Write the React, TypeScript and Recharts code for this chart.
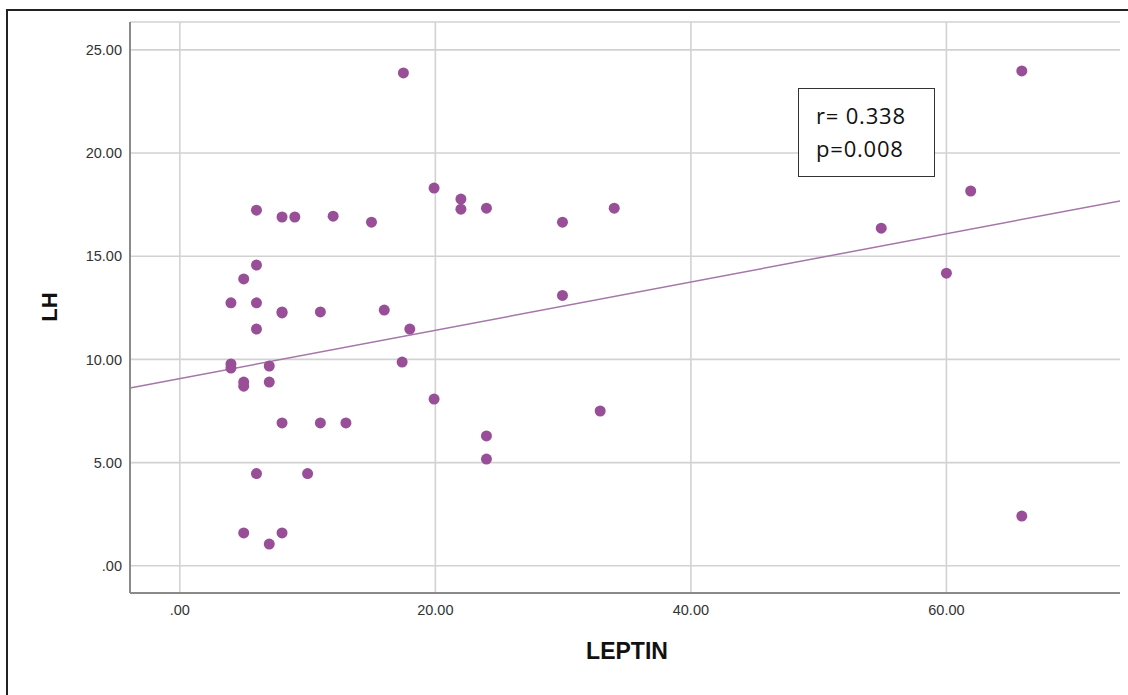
import React from 'react';
import { ScatterChart, Scatter, XAxis, YAxis, CartesianGrid, ReferenceLine } from 'recharts';

const leptin = [17.5, 65.9, 19.9, 22.0, 22.0, 24.0, 34.0, 6.0, 8.0, 9.0, 12.0, 15.0, 29.95, 61.9, 54.9,
  6.0, 5.0, 4.0, 6.0, 8.0, 8.0, 11.0, 16.0, 29.95, 60.0, 6.0, 18.0, 4.0, 4.0, 7.0, 17.4, 5.0, 5.0, 7.0,
  19.9, 32.9, 8.0, 11.0, 13.0, 24.0, 24.0, 6.0, 10.0, 5.0, 8.0, 7.0, 65.9];
const lh = [23.88, 23.98, 18.3, 17.77, 17.28, 17.33, 17.33, 17.23, 16.9, 16.9, 16.94, 16.65, 16.65, 18.16, 16.36,
  14.57, 13.9, 12.74, 12.74, 12.3, 12.25, 12.3, 12.39, 13.1, 14.18, 11.47, 11.47, 9.78, 9.58, 9.68, 9.87, 8.9, 8.7, 8.9,
  8.08, 7.5, 6.92, 6.92, 6.92, 6.29, 5.17, 4.47, 4.47, 1.59, 1.59, 1.05, 2.41];

const xTicks = [0, 20, 40, 60];
const yTicks = [0, 5, 10, 15, 20, 25];
const xDomain: [number, number] = [-3.9, 73.9];
const yDomain: [number, number] = [-1.32, 26.35];

const regIntercept = 9.07;
const regSlope = 0.117;
const statLines = ['r= 0.338', 'p=0.008'];
const cornerLabel = 'R';

const points = leptin.map((x, i) => ({ x, y: lh[i] }));
const regSegment = [
  { x: xDomain[0], y: regIntercept + regSlope * xDomain[0] },
  { x: xDomain[1], y: regIntercept + regSlope * xDomain[1] },
];

const fmt = (v: number) => (v === 0 ? '.00' : v.toFixed(2));
const DOT = '#984f98';
const FONT = '"Liberation Sans", Arial, sans-serif';

const Dot = (props: any) => <circle cx={props.cx} cy={props.cy} r={5.5} fill={DOT} />;

export default function App() {
  return (
    <div style={{ position: 'relative', width: 1128, height: 695, margin: -8, overflow: 'hidden', background: '#fff' }}>
      <div style={{ position: 'absolute', left: 0, top: 0 }}>
        <ScatterChart width={1128} height={695} margin={{ top: 22, right: 4, left: 70, bottom: 72 }}>
          <CartesianGrid stroke="#d2d2d2" strokeWidth={1.6} fill="none" />
          <XAxis
            type="number"
            dataKey="x"
            domain={xDomain}
            ticks={xTicks}
            allowDataOverflow
            height={30}
            tickLine={false}
            tickMargin={6}
            tickFormatter={fmt}
            axisLine={{ stroke: '#8a8a8a', strokeWidth: 2 }}
            tick={{ fill: '#333', fontSize: 14.5, fontFamily: FONT }}
            label={{
              content: () => (
                <text x={627} y={659} textAnchor="middle" fontFamily={FONT} fontSize={23} fontWeight="bold" fill="#111">LEPTIN</text>
              ),
            }}
          />
          <YAxis
            type="number"
            dataKey="y"
            domain={yDomain}
            ticks={yTicks}
            allowDataOverflow
            width={60}
            tickLine={false}
            tickFormatter={fmt}
            axisLine={{ stroke: '#8a8a8a', strokeWidth: 2 }}
            tick={{ fill: '#333', fontSize: 14.5, fontFamily: FONT }}
            label={{
              content: () => (
                <text x={57} y={307} transform="rotate(-90 57 307)" textAnchor="middle" fontFamily={FONT} fontSize={22} fontWeight="bold" fill="#111">LH</text>
              ),
            }}
          />
          <ReferenceLine segment={regSegment} stroke="#a576a8" strokeWidth={1.5} ifOverflow="visible" />
          <Scatter data={points} shape={Dot} isAnimationActive={false} />
        </ScatterChart>
      </div>
      <svg width={1128} height={695} style={{ position: 'absolute', left: 0, top: 0, pointerEvents: 'none' }}>
        <rect x={798.5} y={88.5} width={136} height={88} fill="#fff" stroke="#333" strokeWidth={1} />
        <text x={816} y={124} fontFamily='"Open Sans", sans-serif' fontSize={22} letterSpacing={0.8} fill="#111">{statLines[0]}</text>
        <text x={816} y={157} fontFamily='"Open Sans", sans-serif' fontSize={22} letterSpacing={0.8} fill="#111">{statLines[1]}</text>
        <text x={1120.5} y={39} fontFamily={FONT} fontSize={10} fill="#a060a8">{cornerLabel}</text>
      </svg>
      <div
        style={{
          position: 'fixed',
          left: 6,
          top: 9,
          width: 1200,
          height: 800,
          borderLeft: '2px solid #222',
          borderTop: '2px solid #222',
          boxSizing: 'border-box',
          pointerEvents: 'none',
        }}
      />
    </div>
  );
}
